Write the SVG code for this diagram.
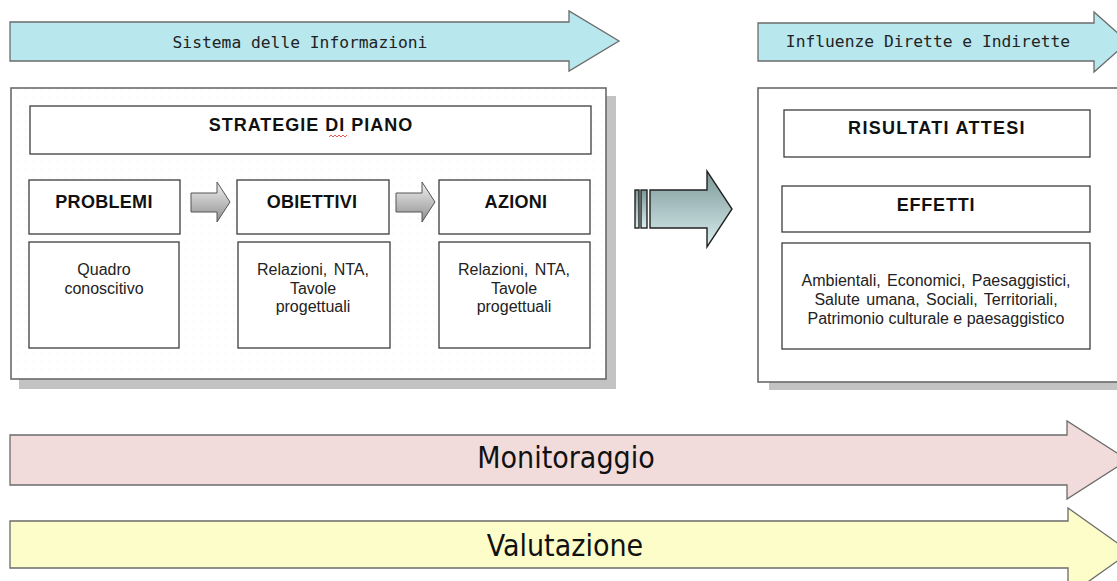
<svg xmlns="http://www.w3.org/2000/svg" width="1117" height="581" viewBox="0 0 1117 581">
<defs>
<style>
.band{stroke:#6b6b6b;stroke-width:1.3}
.mono{font-family:"DejaVu Sans Mono","Liberation Mono",monospace;font-size:16.3px;fill:#222}
.frame{fill:#fff;stroke:#6a6a6a;stroke-width:1.6}
.shadow{fill:#c3c3c3}
.box{fill:#fff;stroke:#3c3c3c;stroke-width:1.3}
.hd{font-family:"Liberation Sans",Arial,sans-serif;font-weight:bold;font-size:18px;fill:#111;text-anchor:middle}
.tx{font-family:"Liberation Sans",Arial,sans-serif;font-size:16px;fill:#222;text-anchor:middle}
.big{font-family:"Liberation Sans Narrow","DejaVu Sans Condensed",sans-serif;font-size:30px;fill:#111;text-anchor:middle}
.sa{fill:url(#gs);stroke:#555;stroke-width:1}
</style>
<pattern id="dots" width="8" height="8" patternUnits="userSpaceOnUse">
<rect width="8" height="8" fill="#fff"/>
<circle cx="2" cy="2" r="0.6" fill="#e3e7ee"/>
</pattern>
<linearGradient id="gs" x1="0" y1="0" x2="0" y2="1">
<stop offset="0" stop-color="#f2f2f2"/>
<stop offset="1" stop-color="#8e8e8e"/>
</linearGradient>
<linearGradient id="gb" x1="0" y1="0" x2="0" y2="1">
<stop offset="0" stop-color="#7c9797"/>
<stop offset="1" stop-color="#d9eef0"/>
</linearGradient>
</defs>

<g id="band-sistema">
<path class="band" fill="#b8e7ee" d="M10,22 H569 V11 L619,41 L569,71 V61 H10 Z"/>
<text class="mono" x="300" y="48" text-anchor="middle">Sistema delle Informazioni</text>
</g>
<g id="band-influenze">
<path class="band" fill="#b8e7ee" d="M758,23 H1094 V12 L1128,42 L1094,72 V61 H758 Z"/>
<text class="mono" x="928" y="47" text-anchor="middle">Influenze Dirette e Indirette</text>
</g>

<g id="strategie-frame">
<rect class="shadow" x="19" y="96" width="597" height="293"/>
<rect class="frame" x="11" y="88" width="595" height="291" style="fill:url(#dots)"/>
</g>
<g id="strategie">
<rect class="box" x="30" y="106" width="561" height="48"/>
<text class="hd" x="311" y="131" letter-spacing="1">STRATEGIE DI PIANO</text>
<path d="M329,137 l2,-2 l2,2 l2,-2 l2,2 l2,-2 l2,2 l2,-2 l2,2 l2,-2" fill="none" stroke="#e03030" stroke-width="0.8"/>
</g>
<g id="problemi">
<rect class="box" x="29" y="180" width="151" height="54"/>
<text class="hd" x="104" y="208" letter-spacing="0.3">PROBLEMI</text>
</g>
<g id="obiettivi">
<rect class="box" x="237" y="180" width="152" height="54"/>
<text class="hd" x="312" y="208" letter-spacing="0.3">OBIETTIVI</text>
</g>
<g id="azioni">
<rect class="box" x="439" y="180" width="151" height="54"/>
<text class="hd" x="516" y="208" letter-spacing="0.3">AZIONI</text>
</g>
<g id="quadro">
<rect class="box" x="29" y="242" width="150" height="106"/>
<text class="tx" x="104" y="275">Quadro</text>
<text class="tx" x="104" y="294">conoscitivo</text>
</g>
<g id="relazioni-1">
<rect class="box" x="238" y="242" width="152" height="106"/>
<text class="tx" x="313" y="275" word-spacing="2">Relazioni, NTA,</text>
<text class="tx" x="313" y="294">Tavole</text>
<text class="tx" x="313" y="312">progettuali</text>
</g>
<g id="relazioni-2">
<rect class="box" x="439" y="242" width="151" height="106"/>
<text class="tx" x="514" y="275" word-spacing="2">Relazioni, NTA,</text>
<text class="tx" x="514" y="294">Tavole</text>
<text class="tx" x="514" y="312">progettuali</text>
</g>

<g id="risultati-frame">
<rect class="shadow" x="769" y="96" width="360" height="294"/>
<rect class="frame" x="758" y="88" width="370" height="294"/>
</g>
<g id="risultati">
<rect class="box" x="784" y="110" width="306" height="47"/>
<text class="hd" x="937" y="134" letter-spacing="1.3">RISULTATI ATTESI</text>
</g>
<g id="effetti">
<rect class="box" x="782" y="186" width="308" height="46"/>
<text class="hd" x="936" y="211" letter-spacing="0.8">EFFETTI</text>
</g>
<g id="effetti-elenco">
<rect class="box" x="782" y="243" width="308" height="106"/>
<text class="tx" x="936" y="286" word-spacing="2">Ambientali, Economici, Paesaggistici,</text>
<text class="tx" x="936" y="305" word-spacing="2">Salute umana, Sociali, Territoriali,</text>
<text class="tx" x="936" y="324">Patrimonio culturale e paesaggistico</text>
</g>

<g id="connectors">
<path class="sa" d="M191,193 H217 V182 L230,202 L217,222 V212 H191 Z"/>
<path class="sa" d="M396,193 H422 V182 L435,202 L422,222 V212 H396 Z"/>
<g stroke="#222" stroke-width="1.4" fill="url(#gb)">
<rect x="635" y="190" width="4" height="38"/>
<rect x="641" y="190" width="6" height="38"/>
<path d="M650,190 H707 V171 L732,209 L707,247 V228 H650 Z"/>
</g>
</g>

<g id="band-monitoraggio">
<path class="band" fill="#f2dcdb" d="M10,435 H1067 V421 L1128,460 L1067,499 V485 H10 Z"/>
<text class="big" x="566" y="468">Monitoraggio</text>
</g>
<g id="band-valutazione">
<path class="band" fill="#fdfdc9" d="M10,521 H1068 V508 L1130,552 L1068,596 V568 H10 Z"/>
<text class="big" x="565" y="556">Valutazione</text>
</g>
</svg>
